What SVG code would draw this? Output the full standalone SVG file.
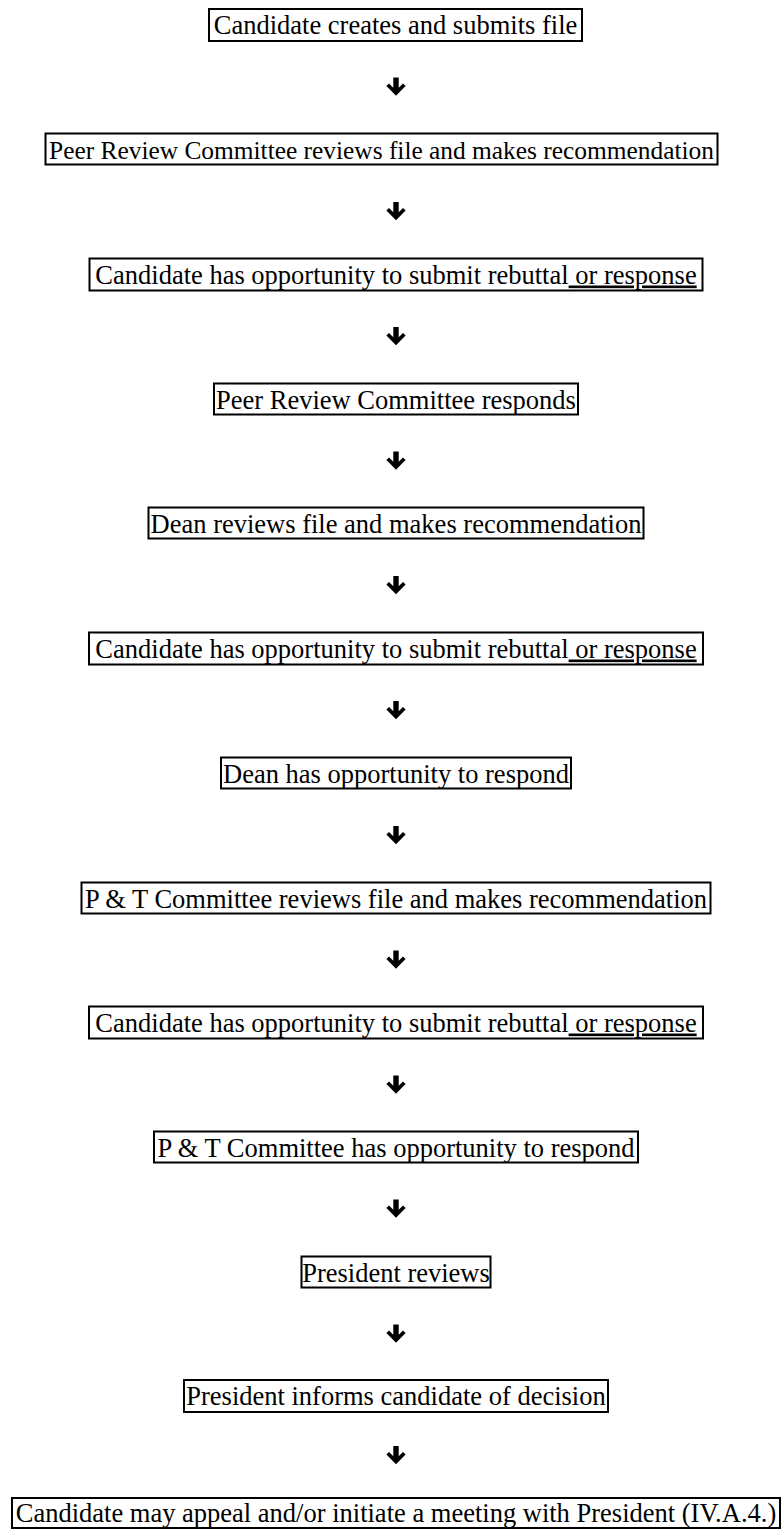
<svg xmlns="http://www.w3.org/2000/svg" width="782" height="1529" viewBox="0 0 782 1529">
<style>
  .box { fill: #ffffff; stroke: #000000; stroke-width: 2; }
  .lbl { font-family: "Liberation Serif", "Times New Roman", serif; font-size: 26.5px; fill: #000000; text-anchor: middle; }
  .sm { font-size: 25.4px; }
  .u { text-decoration: underline; }
  .arr { fill: #000000; stroke: none; }
</style>
<defs>
  <path id="arrow" d="M -2.7 0 L 2.7 0 L 2.7 10.3 L 7 6 L 9.6 8.6 L 0 18.2 L -9.6 8.6 L -7 6 L -2.7 10.3 Z"/>
</defs>
<rect x="0" y="0" width="782" height="1529" fill="#ffffff"/>

<g id="connectors" class="arr">
  <use href="#arrow" transform="translate(396,77.5)"/>
  <use href="#arrow" transform="translate(396,202)"/>
  <use href="#arrow" transform="translate(396,327)"/>
  <use href="#arrow" transform="translate(396,451.5)"/>
  <use href="#arrow" transform="translate(396,576)"/>
  <use href="#arrow" transform="translate(396,701)"/>
  <use href="#arrow" transform="translate(396,826)"/>
  <use href="#arrow" transform="translate(396,950.5)"/>
  <use href="#arrow" transform="translate(396,1075.5)"/>
  <use href="#arrow" transform="translate(396,1199.5)"/>
  <use href="#arrow" transform="translate(396,1324.5)"/>
  <use href="#arrow" transform="translate(396,1446)"/>
</g>

<g id="n1">
  <rect class="box" x="209" y="9" width="373" height="32"/>
  <text class="lbl" x="395.5" y="34">Candidate creates and submits file</text>
</g>
<g id="n2">
  <rect class="box" x="45.5" y="133.5" width="672" height="31"/>
  <text class="lbl sm" x="381.5" y="158.5">Peer Review Committee reviews file and makes recommendation</text>
</g>
<g id="n3">
  <rect class="box" x="89.5" y="258.5" width="613" height="32"/>
  <text class="lbl" x="396" y="283.5">Candidate has opportunity to submit rebuttal<tspan class="u"> or response</tspan></text>
</g>
<g id="n4">
  <rect class="box" x="214" y="383.5" width="364" height="31"/>
  <text class="lbl" x="396" y="408.5">Peer Review Committee responds</text>
</g>
<g id="n5">
  <rect class="box" x="148.5" y="507.5" width="495" height="31"/>
  <text class="lbl" x="396" y="532.5">Dean reviews file and makes recommendation</text>
</g>
<g id="n6">
  <rect class="box" x="89" y="632.5" width="614" height="32"/>
  <text class="lbl" x="396" y="657.5">Candidate has opportunity to submit rebuttal<tspan class="u"> or response</tspan></text>
</g>
<g id="n7">
  <rect class="box" x="221" y="757.5" width="350" height="31"/>
  <text class="lbl" x="396" y="782.5">Dean has opportunity to respond</text>
</g>
<g id="n8">
  <rect class="box" x="81.5" y="882.5" width="629" height="31"/>
  <text class="lbl" x="396" y="907.5">P &amp; T Committee reviews file and makes recommendation</text>
</g>
<g id="n9">
  <rect class="box" x="89" y="1006.5" width="614" height="32"/>
  <text class="lbl" x="396" y="1031.5">Candidate has opportunity to submit rebuttal<tspan class="u"> or response</tspan></text>
</g>
<g id="n10">
  <rect class="box" x="154" y="1131.5" width="484" height="31"/>
  <text class="lbl" x="396" y="1156.5">P &amp; T Committee has opportunity to respond</text>
</g>
<g id="n11">
  <rect class="box" x="301.5" y="1256.5" width="189" height="31"/>
  <text class="lbl" x="396" y="1281.5">President reviews</text>
</g>
<g id="n12">
  <rect class="box" x="184" y="1380" width="424" height="32"/>
  <text class="lbl" x="396" y="1405">President informs candidate of decision</text>
</g>
<g id="n13">
  <rect class="box" x="12" y="1498" width="768" height="30"/>
  <text class="lbl" x="396" y="1522">Candidate may appeal and/or initiate a meeting with President (IV.A.4.)</text>
</g>
</svg>
